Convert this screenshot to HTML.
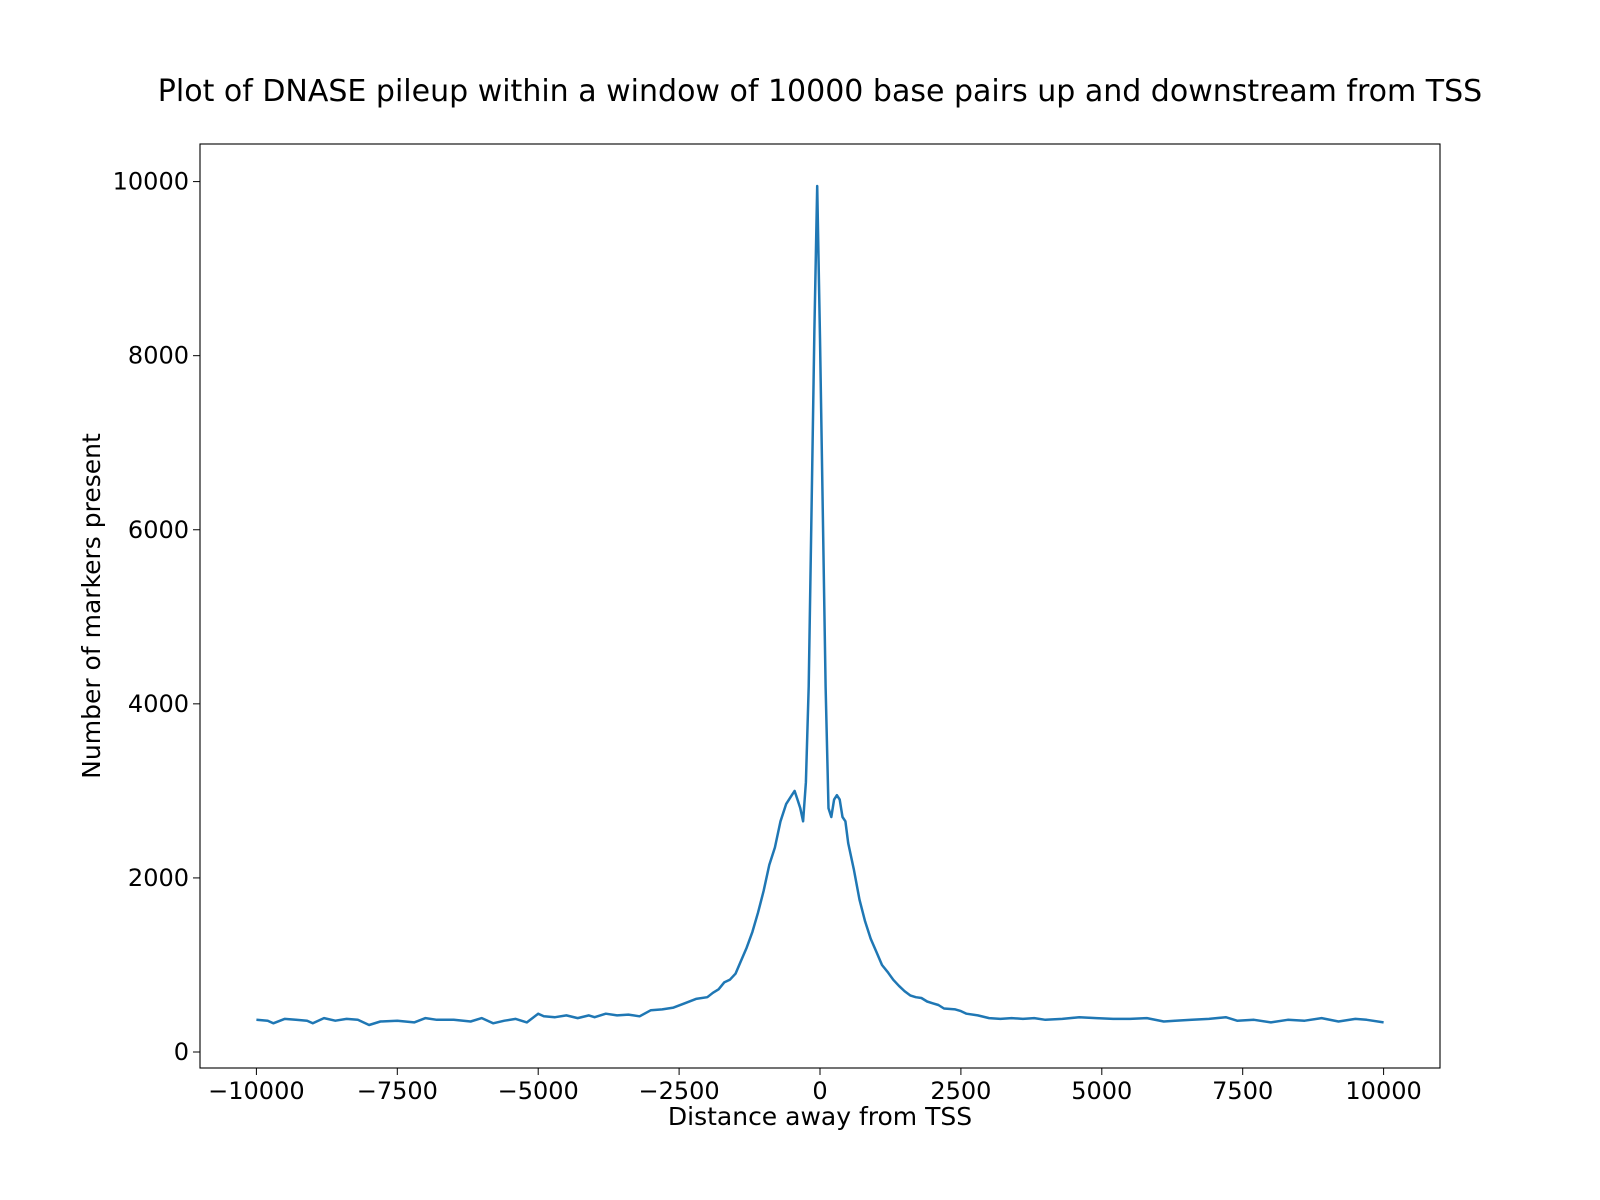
<!DOCTYPE html>
<html><head><meta charset="utf-8"><style>
body{margin:0;background:#fff}
svg{display:block;font-family:"DejaVu Sans","Liberation Sans",sans-serif}
</style></head><body>
<svg id="chart" width="1600" height="1200">
<text x="820" y="101" font-size="30" text-anchor="middle">Plot of DNASE pileup within a window of 10000 base pairs up and downstream from TSS</text>
<rect x="200" y="144" width="1240" height="924" fill="none" stroke="#000" stroke-width="1.1"/>
<g id="xt"></g>
<g id="yt"></g>
<text x="820" y="1125" font-size="25" text-anchor="middle">Distance away from TSS</text>
<text transform="translate(100,606) rotate(-90)" font-size="25" text-anchor="middle">Number of markers present</text>
<path id="line" fill="none" stroke="#1f77b4" stroke-width="2.5" stroke-linejoin="round"/>
</svg>
<script>
const xTicks=[-10000,-7500,-5000,-2500,0,2500,5000,7500,10000];
const xTickLabels=["\u221210000","\u22127500","\u22125000","\u22122500","0","2500","5000","7500","10000"];
const yTicks=[0,2000,4000,6000,8000,10000];
const yTickLabels=["0","2000","4000","6000","8000","10000"];
const distances=[-10000,-9800,-9700,-9500,-9300,-9100,-9000,-8800,-8600,-8400,-8200,-8000,-7800,-7500,-7200,-7000,-6800,-6500,-6200,-6000,-5800,-5600,-5400,-5200,-5000,-4900,-4700,-4500,-4300,-4100,-4000,-3800,-3600,-3400,-3200,-3000,-2800,-2600,-2400,-2200,-2000,-1900,-1800,-1700,-1600,-1500,-1400,-1300,-1200,-1100,-1000,-900,-800,-700,-600,-500,-450,-400,-350,-300,-250,-200,-150,-100,-50,0,50,100,150,200,250,300,350,400,450,500,600,700,800,900,1000,1100,1200,1300,1400,1500,1600,1700,1800,1900,2000,2100,2200,2400,2500,2600,2800,3000,3200,3400,3600,3800,4000,4300,4600,4900,5200,5500,5800,6100,6300,6600,6900,7200,7400,7700,8000,8300,8600,8900,9200,9500,9700,10000];
const pileup=[370,360,330,380,370,360,330,390,360,380,370,310,350,360,340,390,370,370,350,390,330,360,380,340,440,410,400,420,390,420,400,440,420,430,410,480,490,510,560,610,630,680,720,800,830,900,1050,1200,1380,1600,1850,2150,2350,2650,2850,2950,3000,2900,2800,2650,3100,4200,6200,8300,9950,8200,6200,4200,2800,2700,2900,2950,2900,2700,2650,2400,2100,1750,1500,1300,1150,1000,920,830,760,700,650,630,620,580,560,540,500,490,470,440,420,390,380,390,380,390,370,380,400,390,380,380,390,350,360,370,380,400,360,370,340,370,360,390,350,380,370,340];
const X0=200,X1=1440,Y0=144,Y1=1068;
const xs=v=>820+v*0.05636;
const ys=v=>1052-v*0.08704;
const NS="http://www.w3.org/2000/svg";
const xg=document.getElementById('xt'),yg=document.getElementById('yt');
xTicks.forEach((t,i)=>{
 const l=document.createElementNS(NS,'line');
 l.setAttribute('x1',xs(t));l.setAttribute('x2',xs(t));l.setAttribute('y1',Y1);l.setAttribute('y2',Y1+7);l.setAttribute('stroke','#000');
 
 
 xg.appendChild(l);
 const tx=document.createElementNS(NS,'text');
 tx.setAttribute('x',xs(t));tx.setAttribute('y',Y1+31);tx.setAttribute('font-size','24');tx.setAttribute('text-anchor','middle');
 tx.textContent=xTickLabels[i];
 
 
 xg.appendChild(tx);
});
yTicks.forEach((t,i)=>{
 const l=document.createElementNS(NS,'line');
 l.setAttribute('x1',X0-7);l.setAttribute('x2',X0);l.setAttribute('y1',ys(t));l.setAttribute('y2',ys(t));l.setAttribute('stroke','#000');
 
 
 yg.appendChild(l);
 const tx=document.createElementNS(NS,'text');
 tx.setAttribute('x',X0-11);tx.setAttribute('y',ys(t)+8);tx.setAttribute('font-size','24');tx.setAttribute('text-anchor','end');
 tx.textContent=yTickLabels[i];
 
 
 yg.appendChild(tx);
});
document.getElementById('line').setAttribute('d',distances.map((d,i)=>(i?'L':'M')+xs(d).toFixed(1)+','+ys(pileup[i]).toFixed(1)).join(''));
</script>
</body></html>
